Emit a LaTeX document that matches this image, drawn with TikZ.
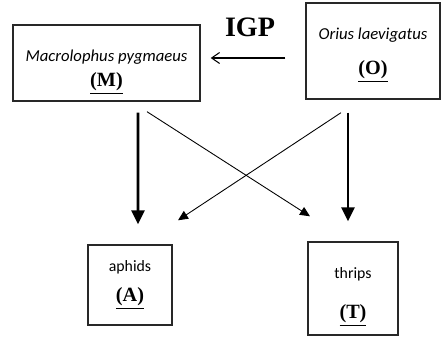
\documentclass[tikz,border=0pt]{standalone}
\usepackage{fontspec}
\setmainfont{Liberation Serif}
\newfontfamily\bugfont{Carlito}
\usetikzlibrary{arrows.meta, positioning, calc}
\definecolor{colBorder}{RGB}{40,40,40}
\tikzset{
    box/.style={rectangle, draw=colBorder, thick, align=center, inner sep=0pt},
    bigarrow/.style={-{Triangle[length=2.8mm, width=2.6mm]}, line width=1.5pt},
    thinarrow/.style={-{Triangle[length=2mm, width=1.8mm]}, line width=0.5pt},
    igparrow/.style={-{Straight Barb[length=1.6mm, width=2.2mm]}, line width=0.6pt}
}
\newcommand{\tag}[1]{\textbf{\underline{#1}}}
\newcommand{\push}[1]{\rule{0pt}{#1}}
\begin{document}
\begin{tikzpicture}[x=0.02cm, y=-0.02cm]
    \useasboundingbox (0,0) rectangle (442,337);

    % predators
    \node[box, minimum width=187*0.02cm, minimum height=76*0.02cm] (M) at (106.5,63)
        {\push{17pt}{\bugfont\itshape\fontsize{9.5}{11}\selectfont Macrolophus pygmaeus}\\[2pt]{\fontsize{11.5}{13}\selectfont\tag{(M)}}};
    \node[box, minimum width=134*0.02cm, minimum height=96*0.02cm] (O) at (373,51)
        {\push{11pt}{\bugfont\itshape\fontsize{9.5}{11}\selectfont Orius laevigatus}\\[8pt]{\fontsize{11.5}{13}\selectfont\tag{(O)}}};

    % prey
    \node[box, minimum width=84*0.02cm, minimum height=80*0.02cm] (A) at (130,285)
        {{\bugfont\fontsize{9}{11}\selectfont aphids}\\[5pt]{\fontsize{11.5}{13}\selectfont\tag{(A)}}};
    \node[box, minimum width=90*0.02cm, minimum height=93*0.02cm] (T) at (353,288.5)
        {\push{16pt}{\bugfont\fontsize{9}{11}\selectfont thrips}\\[11pt]{\fontsize{11.5}{13}\selectfont\tag{(T)}}};

    \node[font=\bfseries\fontsize{16}{18}\selectfont] (igp) at (250,27) {IGP};

    \draw[igparrow] ($(O.west)+(-20,7)$) -- ($(M.east)+(10,-5)$);
    \draw[bigarrow] ($(M.south)+(31.5,11)$) -- ($(A.north)+(8,-20)$);
    \draw[bigarrow] ($(O.south)+(-25,13)$) -- ($(T.north)+(-5,-20)$);
    \draw[thinarrow] ($(M.south)+(40.5,10)$) -- ($(T.north)+(-43,-25)$);
    \draw[thinarrow] ($(O.south)+(-32,13)$) -- ($(A.north)+(48,-24)$);

\end{tikzpicture}
\end{document}
